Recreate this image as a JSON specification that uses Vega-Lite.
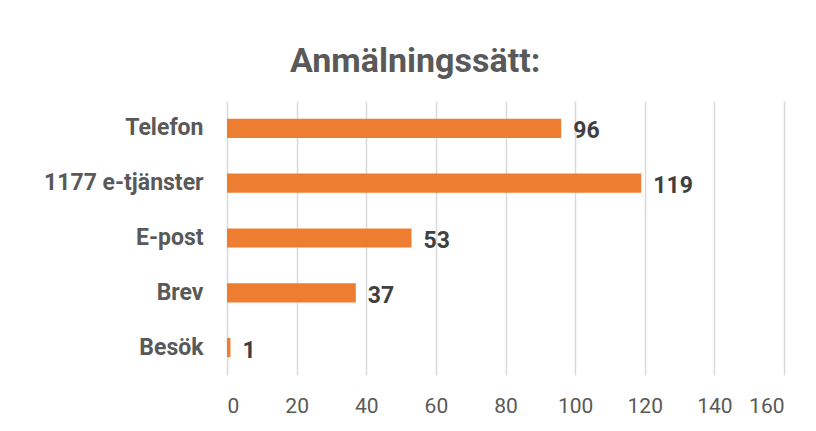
{
  "$schema": "https://vega.github.io/schema/vega-lite/v6.json",
  "width": 557,
  "height": 274,
  "autosize": {"type": "none"},
  "padding": {"left": 227, "top": 101, "right": 32, "bottom": 56},
  "background": "white",
  "title": {
    "text": "Anmälningssätt:",
    "font": "Roboto",
    "fontSize": 34,
    "fontWeight": "bold",
    "color": "#595959",
    "anchor": "start",
    "frame": "group",
    "dx": 63,
    "offset": 22
  },
  "data": {
    "values": [
      {"kanal": "Telefon", "antal": 96},
      {"kanal": "1177 e-tjänster", "antal": 119},
      {"kanal": "E-post", "antal": 53},
      {"kanal": "Brev", "antal": 37},
      {"kanal": "Besök", "antal": 1}
    ]
  },
  "config": {
    "view": {"stroke": null},
    "font": "Roboto"
  },
  "encoding": {
    "y": {
      "field": "kanal",
      "type": "nominal",
      "sort": null,
      "title": null,
      "scale": {"paddingInner": 0.65, "paddingOuter": 0.325},
      "axis": {
        "domain": false,
        "ticks": false,
        "labelPadding": 24,
        "labelFontSize": 23,
        "labelFontWeight": "bold",
        "labelColor": "#595959",
        "labelFont": "Roboto"
      }
    },
    "x": {
      "field": "antal",
      "type": "quantitative",
      "title": null,
      "scale": {"domain": [0, 160], "nice": false},
      "axis": {
        "values": [0, 20, 40, 60, 80, 100, 120, 140, 160],
        "domain": false,
        "ticks": false,
        "grid": true,
        "gridColor": "#d9d9d9",
        "gridWidth": 1.5,
        "labelPadding": 20,
        "labelFontSize": 21,
        "labelColor": "#595959",
        "labelFont": "Roboto"
      }
    }
  },
  "layer": [
    {"mark": {"type": "bar", "color": "#ED7D31"}},
    {
      "mark": {
        "type": "text",
        "align": "left",
        "baseline": "middle",
        "dx": 12,
        "dy": 3,
        "fontSize": 23,
        "fontWeight": "bold",
        "color": "#404040",
        "font": "Roboto"
      },
      "encoding": {"text": {"field": "antal", "type": "quantitative"}}
    }
  ]
}
